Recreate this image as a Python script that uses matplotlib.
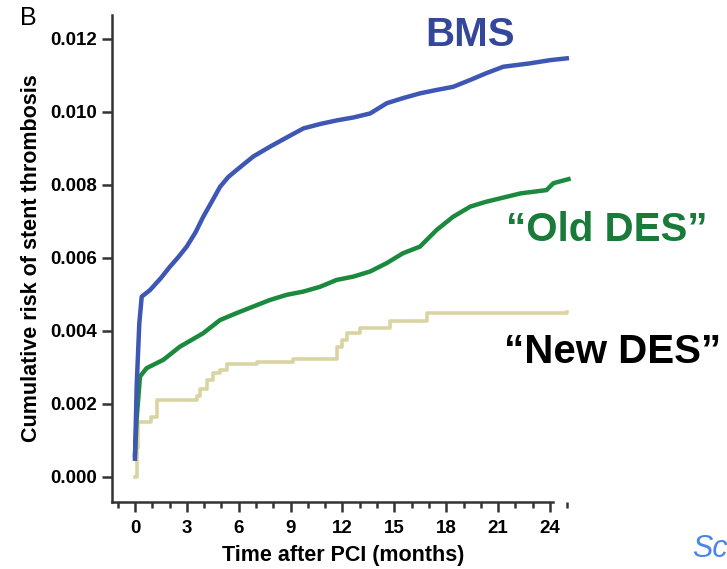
import numpy as np
import matplotlib.pyplot as plt
from matplotlib.ticker import MultipleLocator

plt.rcParams['font.family'] = ['Liberation Sans', 'DejaVu Sans']

# months after PCI and cumulative risk
bms_t = [0.0, 0.1, 0.25, 0.39, 0.87, 1.5, 2.02, 2.5, 2.99, 3.5, 3.95, 4.45, 4.92, 5.4, 5.88,
         6.84, 7.81, 8.77, 9.74, 10.7, 11.67, 12.63, 13.6, 14.56, 15.5, 16.48, 17.4, 18.4,
         19.4, 20.3, 21.3, 22.8, 24.0, 24.97]
bms_v = [0.0005, 0.0025, 0.0042, 0.00494, 0.00512, 0.00545, 0.00576, 0.00602, 0.00631,
         0.00670, 0.00713, 0.00755, 0.00795, 0.00822, 0.00841, 0.00878, 0.00905, 0.00930,
         0.00955, 0.00967, 0.00977, 0.00985, 0.00996, 0.01024, 0.01038, 0.01051, 0.01060,
         0.01069, 0.01088, 0.01106, 0.01124, 0.01133, 0.01142, 0.01147]

old_t = [0.0, 0.1, 0.29, 0.67, 1.64, 2.6, 3.95, 4.92, 5.88, 6.84, 7.81, 8.77, 9.74, 10.7,
         11.67, 12.63, 13.6, 14.56, 15.5, 16.48, 17.45, 18.4, 19.4, 20.3, 22.3, 23.8, 24.2, 25.07]
old_v = [0.0006, 0.0016, 0.00275, 0.00298, 0.00321, 0.00357, 0.00394, 0.00430, 0.00449,
         0.00467, 0.00485, 0.00499, 0.00508, 0.00521, 0.00540, 0.00549, 0.00563, 0.00586,
         0.00613, 0.00631, 0.00677, 0.00713, 0.00741, 0.00754, 0.00777, 0.00786, 0.00805, 0.00816]

new_t = [0.0, 0.1, 0.2, 0.9, 1.25, 3.57, 3.76, 4.14, 4.53, 4.92, 5.3, 7.04, 9.16,
         11.7, 12.0, 12.24, 13.0, 14.75, 16.87, 25.0]
new_v = [0.0, 0.0008, 0.00150, 0.00165, 0.00211, 0.00222, 0.00240, 0.00266, 0.00285,
         0.00294, 0.00310, 0.00316, 0.00322, 0.00357, 0.00375, 0.00394, 0.00407,
         0.00426, 0.00449, 0.00452]

fig = plt.figure(figsize=(7.27, 5.69), dpi=100)
ax = fig.add_axes([0.154, 0.1178, 0.637, 0.856])

ax.plot(new_t, new_v, color='#d9d4a2', lw=2.6, drawstyle='steps-post', zorder=2)
ax.plot(old_t, old_v, color='#1b8a3e', lw=3.2, zorder=3)
ax.plot(bms_t, bms_v, color='#3e56b4', lw=3.2, zorder=4)

ax.set_xlim(-1.33, 25.45)
ax.set_ylim(-0.000685, 0.01266)
ax.spines['top'].set_visible(False)
ax.spines['right'].set_visible(False)
ax.spines['bottom'].set_bounds(-1.33, 24.2)
for s in ['left', 'bottom']:
    ax.spines[s].set_linewidth(1.8)
    ax.spines[s].set_color('#333333')

ax.set_xticks(np.arange(0, 25, 3))
ax.xaxis.set_minor_locator(MultipleLocator(1))
ax.set_yticks(np.arange(0, 0.0121, 0.002))
ax.set_yticklabels([f'{v:.3f}' for v in np.arange(0, 0.0121, 0.002)])
ax.tick_params(axis='both', which='major', direction='out', length=7, width=1.8,
               color='#333333', labelsize=13.5)
ax.tick_params(axis='x', which='major', pad=6)
ax.tick_params(axis='x', which='minor', direction='out', length=4.5, width=1.8, color='#333333')
for lab in ax.get_xticklabels() + ax.get_yticklabels():
    lab.set_fontweight('bold')

ax.set_xlabel('Time after PCI (months)', fontsize=15.5, fontweight='bold', labelpad=6)
ax.set_ylabel('Cumulative risk of stent thrombosis', fontsize=15.5, fontweight='bold', labelpad=6)

fig.text(0.028, 0.968, 'B', fontsize=18, ha='left', va='center')
fig.text(0.646, 0.938, 'BMS', fontsize=29, fontweight='bold', color='#34479b', ha='center', va='center')
fig.text(0.835, 0.595, '\u201cOld DES\u201d', fontsize=29, fontweight='bold', color='#1a7a3a',
         ha='center', va='center')
fig.text(0.843, 0.382, '\u201cNew DES\u201d', fontsize=29, fontweight='bold', color='black',
         ha='center', va='center')
fig.text(0.952, 0.008, 'Sc', fontsize=22, style='italic', color='#4a86e8', ha='left', va='bottom')

fig.savefig('out.png', dpi=100)
